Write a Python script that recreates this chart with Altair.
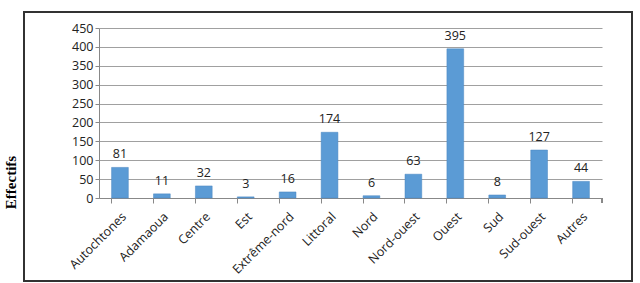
import altair as alt
import pandas as pd

categories = ["Autochtones", "Adamaoua", "Centre", "Est", "Extrême-nord", "Littoral",
              "Nord", "Nord-ouest", "Ouest", "Sud", "Sud-ouest", "Autres"]
values = [81, 11, 32, 3, 16, 174, 6, 63, 395, 8, 127, 44]
y_ticks = [0, 50, 100, 150, 200, 250, 300, 350, 400, 450]

df = pd.DataFrame({"cat": categories, "val": values})

W, H = 503, 170
FONT = "Open Sans"

x_enc = alt.X("cat:N", sort=categories, title=None,
              scale=alt.Scale(paddingInner=0.6, paddingOuter=0.3),
              axis=alt.Axis(labelAngle=-45, labelAlign="right", labelBaseline="top",
                            labelFont=FONT, labelFontSize=12.5, labelColor="#222",
                            bandPosition=0, tickSize=5, tickColor="#888",
                            domainColor="#888", labelPadding=7, labelOverlap=False))
y_enc = alt.Y("val:Q", title="Effectifs",
              scale=alt.Scale(domain=[0, 450], nice=False),
              axis=alt.Axis(values=y_ticks, labelFont=FONT, labelFontSize=12.5,
                            labelColor="#222", tickSize=4, tickColor="#888",
                            domainColor="#888", gridColor="#a0a0a0", labelOverlap=False,
                            titleFont="Liberation Serif", titleFontSize=15,
                            titleFontWeight="bold", titleColor="#000",
                            titleX=-81, titleY=154, titleAngle=-90))

base = alt.Chart(df).encode(x=x_enc, y=y_enc)

bars = base.mark_bar(color="#5B9BD5", stroke="#4A86C0", strokeWidth=0.5)

labels = base.mark_text(baseline="bottom", dy=-6, font=FONT, fontSize=12.5,
                        color="#222").encode(text="val:Q")

end_tick = alt.Chart(df).mark_rule(color="#888").encode(
    x=alt.value(W), y=alt.value(H), y2=alt.value(H + 5))

border = alt.Chart(df).mark_rect(fill=None, stroke="#333", strokeWidth=1.2).encode(
    x=alt.value(-75), x2=alt.value(533), y=alt.value(-16), y2=alt.value(253))

chart = alt.layer(bars, labels, end_tick, border).properties(
    width=W, height=H,
    autosize=alt.AutoSizeParams(type="none"),
    padding={"left": 99, "top": 28, "right": 38, "bottom": 85},
).configure(background="white").configure_view(stroke=None)

chart.save("out.html", embed_options={"renderer": "svg", "actions": False})
